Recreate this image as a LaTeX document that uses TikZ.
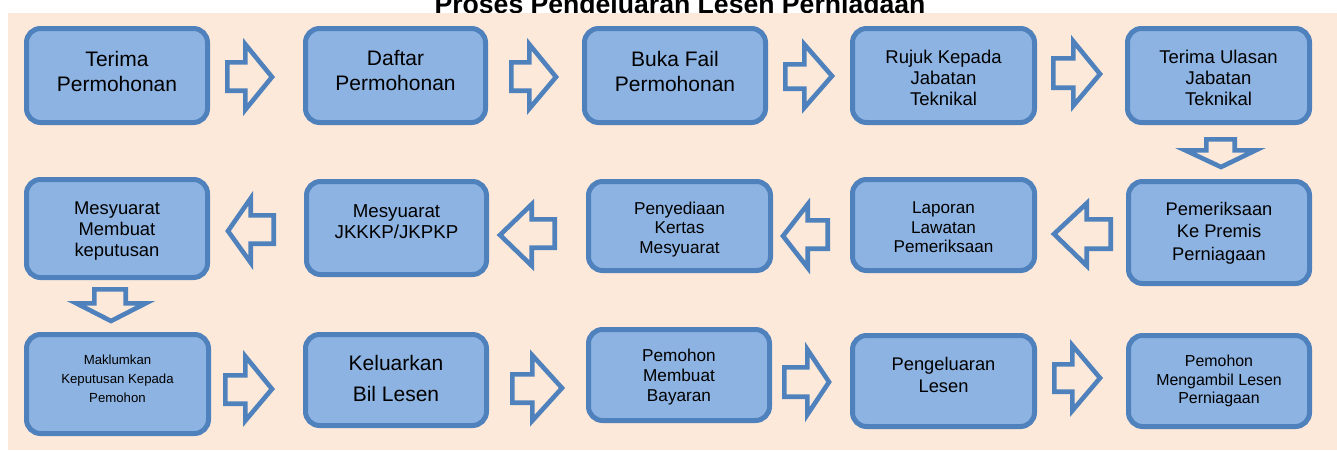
\documentclass[tikz,border=0pt]{standalone}
\usepackage{fontspec}
\setmainfont{Liberation Sans}
\definecolor{bg}{HTML}{FDE9D9}
\definecolor{bord}{HTML}{4F81BD}
\definecolor{boxfill}{HTML}{8DB3E2}
\newcommand\fs[2]{\fontsize{#1}{#2}\selectfont}
\def\hw{2.3}
% right block arrow: name, x0, xtip, xbase, ytip, headtop, headbot, shafttop, shaftbot
\newcommand\rarr[9]{%
  \draw[barrow] (#2+\hw,#8+\hw) -- (#4+\hw,#8+\hw) -- (#4+\hw,#6+\hw) -- (#3-3,#5)
    -- (#4+\hw,#7-\hw) -- (#4+\hw,#9-\hw) -- (#2+\hw,#9-\hw) -- cycle;
  \coordinate (#1) at ({(#2+#3)/2},#5);}
% left block arrow: name, xtip, xright, xbase, ytip, headtop, headbot, shafttop, shaftbot
\newcommand\larr[9]{%
  \draw[barrow] (#3-\hw,#8+\hw) -- (#4-\hw,#8+\hw) -- (#4-\hw,#6+\hw) -- (#2+3,#5)
    -- (#4-\hw,#7-\hw) -- (#4-\hw,#9-\hw) -- (#3-\hw,#9-\hw) -- cycle;
  \coordinate (#1) at ({(#2+#3)/2},#5);}
% down block arrow: name, ytop, ytip, ybase, xtip, headleft, headright, shaftleft, shaftright
\newcommand\darr[9]{%
  \draw[barrow] (#8+\hw,#2+\hw) -- (#8+\hw,#4+\hw) -- (#6+\hw,#4+\hw) -- (#5,#3-3)
    -- (#7-\hw,#4+\hw) -- (#9-\hw,#4+\hw) -- (#9-\hw,#2+\hw) -- cycle;
  \coordinate (#1) at (#5,{(#2+#3)/2});}
\begin{document}
\begin{tikzpicture}[x=1pt,y=-1pt,
  box/.style={draw=bord, line width=5pt, fill=boxfill, rounded corners=14pt, inner sep=0pt},
  txt/.style={align=center, inner sep=0pt, text=black},
  barrow/.style={draw=bord, line width=4.6pt, fill=bg, line join=miter}]
\useasboundingbox (0,0) rectangle (1337,450);
\clip (0,0) rectangle (1337,450);
\fill[white] (0,0) rectangle (1337,450);
\node[anchor=base, inner sep=0pt, font=\fs{26.6}{30}\bfseries] (title) at (680,13) {Proses Pengeluaran Lesen Perniagaan};
\fill[bg] (8,13) rectangle (1337,450);

% row 1
\node[box, minimum width=181pt, minimum height=94pt] (b1) at (117,75.5) {};
\node[txt, font=\fs{21}{25}] (t1) at (117,71) {Terima\\Permohonan};
\node[box, minimum width=180pt, minimum height=94pt] (b2) at (395.5,75.5) {};
\node[txt, font=\fs{21}{25}] (t2) at (395.5,71) {Daftar\\Permohonan};
\node[box, minimum width=181pt, minimum height=94pt] (b3) at (675,75.5) {};
\node[txt, font=\fs{21}{25}] (t3) at (675,71) {Buka Fail\\Permohonan};
\node[box, minimum width=182pt, minimum height=94pt] (b4) at (943.5,75.5) {};
\node[txt, font=\fs{18.5}{21}] (t4) at (943.5,77.5) {Rujuk Kepada\\Jabatan\\Teknikal};
\node[box, minimum width=182pt, minimum height=94pt] (b5) at (1218.5,75.5) {};
\node[txt, font=\fs{18.5}{21}] (t5) at (1218.5,77.5) {Terima Ulasan\\Jabatan\\Teknikal};

% row 2
\node[box, minimum width=181pt, minimum height=98pt] (b6) at (117,228.5) {};
\node[txt, font=\fs{18.4}{21}] (t6) at (117,231.5) {Mesyuarat\\Membuat\\keputusan};
\node[box, minimum width=180pt, minimum height=93pt] (b7) at (396.5,228) {};
\node[txt, font=\fs{18.7}{21.3}] (t7) at (396.5,222) {Mesyuarat\\JKKKP/JKPKP};
\node[box, minimum width=182pt, minimum height=89pt] (b8) at (679.5,226) {};
\node[txt, font=\fs{17.2}{19.5}] (t8) at (679.5,229.5) {Penyediaan\\Kertas\\Mesyuarat};
\node[box, minimum width=182pt, minimum height=91pt] (b9) at (943.5,225) {};
\node[txt, font=\fs{17.1}{19.5}] (t9) at (943.5,227.5) {Laporan\\Lawatan\\Pemeriksaan};
\node[box, minimum width=181pt, minimum height=102pt] (b10) at (1219,232.5) {};
\node[txt, font=\fs{18.3}{22.5}] (t10) at (1219,233) {Pemeriksaan\\Ke Premis\\Perniagaan};

% row 3
\node[box, minimum width=182pt, minimum height=99pt] (b11) at (117.5,384) {};
\node[txt, font=\fs{13.2}{19.2}] (t11) at (117.5,379) {Maklumkan\\Keputusan Kepada\\Pemohon};
\node[box, minimum width=181pt, minimum height=91pt] (b12) at (396,380) {};
\node[txt, font=\fs{21}{30.7}] (t12) at (396,378.5) {Keluarkan\\Bil Lesen};
\node[box, minimum width=181pt, minimum height=91pt] (b13) at (679,375) {};
\node[txt, font=\fs{17.2}{20}] (t13) at (679,377.5) {Pemohon\\Membuat\\Bayaran};
\node[box, minimum width=182pt, minimum height=91pt] (b14) at (943.5,381) {};
\node[txt, font=\fs{18.3}{21.7}] (t14) at (943.5,375) {Pengeluaran\\Lesen};
\node[box, minimum width=181pt, minimum height=91pt] (b15) at (1219,381) {};
\node[txt, font=\fs{15.9}{18.3}] (t15) at (1219,381) {Pemohon\\Mengambil Lesen\\Perniagaan};

% block arrows
\rarr{a1}{225}{275}{243}{77}{42}{112}{60}{93}
\rarr{a2}{509}{559}{527}{77}{42}{111}{60}{93}
\rarr{a3}{783}{835}{802}{76}{42}{110}{62}{91}
\rarr{a4}{1051}{1103}{1071}{74}{39}{108}{56}{90}
\darr{d1}{137}{170}{148}{1221}{1183}{1258}{1204}{1237}
\larr{l1}{1051}{1113}{1089}{234}{201}{268}{217}{251}
\larr{l2}{780}{830}{810}{236}{202}{270}{218}{251}
\larr{l3}{497}{557}{534}{235}{202}{268}{217}{250}
\larr{l4}{225}{276}{253}{231}{196}{265}{213}{246}
\darr{d2}{287}{324}{301}{111}{74}{148}{92}{128}
\rarr{r1}{223}{275}{243}{389}{354}{423}{373}{406}
\rarr{r2}{510}{565}{530}{388}{353}{423}{372}{405}
\rarr{r3}{782}{832}{805}{382}{347}{417}{365}{399}
\rarr{r4}{1052}{1103}{1070}{378}{343}{413}{362}{394}
\end{tikzpicture}
\end{document}
